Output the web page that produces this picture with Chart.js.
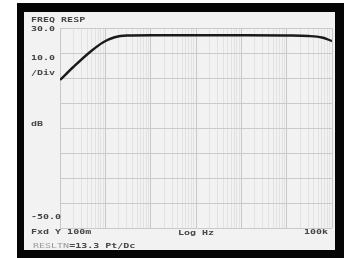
<!DOCTYPE html>
<html>
<head>
<meta charset="utf-8">
<script src="https://cdn.jsdelivr.net/npm/chart.js@4"></script>
<style>
  html, body { margin: 0; padding: 0; background: #fff; }
  #wrap { position: relative; width: 344px; height: 258px; overflow: hidden; background: #fff; }
  #frame { position: absolute; left: 17px; top: 3px; width: 327px; height: 255px; background: #050505; }
  #panel { position: absolute; left: 24px; top: 12px; width: 311px; height: 238px; background: #f2f2f2; }
  #myChart { position: absolute; left: 0; top: 0; }
  .lbl { position: absolute; font-family: "DejaVu Sans Mono", monospace; font-weight: bold;
         font-size: 10px; line-height: 10px; color: #474747; white-space: pre;
         transform: scaleY(0.78); transform-origin: left center; }
</style>
</head>
<body>
<div id="wrap">
  <div id="frame"></div>
  <div id="panel"></div>
  <canvas id="myChart" width="344" height="258"></canvas>
  <div class="lbl" style="left:31px;top:15px">FREQ RESP</div>
  <div class="lbl" style="left:31px;top:24px">30.0</div>
  <div class="lbl" style="left:31px;top:53px">10.0</div>
  <div class="lbl" style="left:31px;top:68px">/Div</div>
  <div class="lbl" style="left:31px;top:119px">dB</div>
  <div class="lbl" style="left:31px;top:212px">-50.0</div>
  <div class="lbl" style="left:31px;top:227px">Fxd Y 100m</div>
  <div class="lbl" style="left:33px;top:241px"><span style="color:#9a9a9a;font-weight:normal">RESLTN</span>=13.3 Pt/Dc</div>
  <div class="lbl" style="left:178px;top:228px">Log Hz</div>
  <div class="lbl" style="left:304px;top:227px">100k</div>
</div>
<script>
// frequency response trace (Hz, dB)
const freqs = [0.1, 0.2, 0.46, 0.9, 1.6, 3, 10, 100, 1000, 10000, 30000, 60000, 100000];
const gainDb = [9.2, 14.5, 20.4, 24.3, 26.3, 27, 27.1, 27.1, 27.1, 27, 26.8, 26.2, 24.8];
const yTicks = [-50, -40, -30, -20, -10, 0, 10, 20, 30];
const decades = [0.1, 1, 10, 100, 1000, 10000, 100000];

var ctx = document.getElementById("myChart").getContext("2d");
var myChart = new Chart(ctx, {
  type: 'line',
  data: {
    datasets: [{
      data: freqs.map((f, i) => ({ x: f, y: gainDb[i] })),
      borderColor: '#1a1a1a',
      borderWidth: 2.4,
      pointRadius: 0,
      fill: false,
      cubicInterpolationMode: 'monotone'
    }]
  },
  options: {
    responsive: false,
    animation: false,
    devicePixelRatio: 1,
    layout: { padding: { left: 60, right: 12, top: 28, bottom: 30 } },
    plugins: { legend: { display: false }, tooltip: { enabled: false } },
    scales: {
      x: {
        type: 'logarithmic',
        min: 0.1,
        max: 100000,
        afterBuildTicks: (scale) => {
          const t = [];
          decades.forEach((d) => {
            for (let m = 1; m <= 9; m++) {
              const v = d * m;
              if (v <= 100000 * 1.0001) t.push({ value: v });
            }
          });
          scale.ticks = t;
        },
        ticks: { display: false },
        border: { display: false },
        grid: {
          drawTicks: false,
          color: (c) => {
            const v = c.tick ? c.tick.value : 0;
            const lg = Math.log10(v);
            return Math.abs(lg - Math.round(lg)) < 1e-6 ? '#c8c8c8' : '#e2e2e2';
          },
          lineWidth: 1
        }
      },
      y: {
        min: -50,
        max: 30,
        afterBuildTicks: (scale) => { scale.ticks = yTicks.map((v) => ({ value: v })); },
        ticks: { display: false },
        border: { display: false },
        grid: { drawTicks: false, color: '#cacaca', lineWidth: 1 }
      }
    }
  }
});
</script>
</body>
</html>
